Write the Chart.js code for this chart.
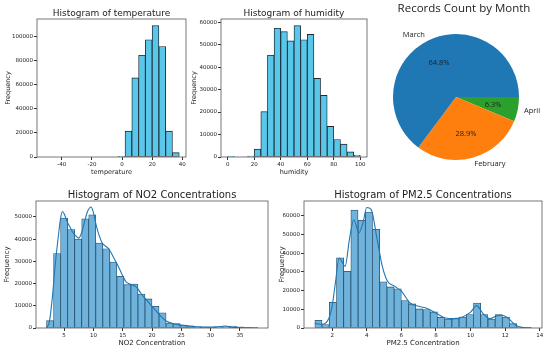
<!DOCTYPE html>
<html>
<head>
<meta charset="utf-8">
<script src="https://cdn.jsdelivr.net/npm/chart.js@4.4.1/dist/chart.umd.min.js"></script>
<style>
	body { margin: 0; background: #fff; }
	#wrap { position: relative; width: 550px; height: 348px; overflow: hidden; }
	canvas { position: absolute; }
</style>
</head>
<body>
<div id="wrap">
	<canvas id="temp-chart" width="190" height="176" style="left:0;top:0"></canvas>
	<canvas id="hum-chart" width="180" height="176" style="left:190px;top:0"></canvas>
	<canvas id="month-chart" width="180" height="176" style="left:370px;top:0"></canvas>
	<canvas id="no2-chart" width="278" height="172" style="left:0;top:176px"></canvas>
	<canvas id="pm-chart" width="272" height="172" style="left:278px;top:176px"></canvas>
</div>
<script>
// temperature histogram (20 bins)
const tempEdges = [-52, -47.5, -43, -38.5, -34, -29.5, -25, -20.5, -16, -11.5, -7, -2.5, 2, 6.5, 11, 15.5, 20, 24.5, 29, 33.5, 38];
const tempCounts = [0, 0, 0, 0, 0, 0, 0, 0, 0, 0, 0, 300, 21500, 65600, 84400, 97200, 109000, 91600, 21500, 3600];
const tempXTicks = [-40, -20, 0, 20, 40];
const tempYTicks = [0, 20000, 40000, 60000, 80000, 100000];

// humidity histogram (20 bins)
const humEdges = [0, 5, 10, 15, 20, 25, 30, 35, 40, 45, 50, 55, 60, 65, 70, 75, 80, 85, 90, 95, 100];
const humCounts = [300, 0, 0, 450, 3500, 20200, 45300, 57300, 55800, 51700, 58500, 52200, 54600, 35000, 27400, 13600, 7800, 5700, 2300, 750];
const humXTicks = [0, 20, 40, 60, 80, 100];
const humYTicks = [0, 10000, 20000, 30000, 40000, 50000, 60000];

// records by month
const months = ['March', 'February', 'April'];
const monthShares = [64.8, 28.9, 6.3];
const monthColors = ['#1f77b4', '#ff7f0e', '#2ca02c'];

// NO2 histogram (30 bins) + kde
const no2Edges = [2, 3.2, 4.4, 5.6, 6.8, 8, 9.2, 10.4, 11.6, 12.8, 14, 15.2, 16.4, 17.6, 18.8, 20, 21.2, 22.4, 23.6, 24.8, 26, 27.2, 28.4, 29.6, 30.8, 32, 33.2, 34.4, 35.6, 36.8, 38];
const no2Counts = [3300, 33500, 49500, 44300, 40100, 49200, 51000, 38300, 35700, 29700, 23300, 19500, 19800, 15300, 13100, 9800, 6800, 2200, 2000, 1300, 1000, 600, 400, 300, 400, 600, 900, 500, 200, 100];
const no2KdeX = [2, 2.5, 3, 3.5, 4, 4.4, 4.7, 5, 5.5, 6, 6.5, 7, 7.5, 8, 8.5, 9, 9.6, 10, 10.5, 11, 11.5, 12, 12.5, 13, 13.5, 14, 14.5, 15, 15.5, 16, 16.5, 17, 17.5, 18, 18.5, 19, 19.5, 20, 20.5, 21, 21.5, 22, 22.5, 23.5, 25, 27, 29, 31, 32.5, 34, 36, 38];
const no2KdeY = [0, 3000, 14000, 29000, 41000, 49500, 52500, 51500, 48000, 45500, 43000, 41500, 40500, 43000, 48000, 52500, 54500, 52000, 46000, 41500, 38300, 37000, 36000, 34000, 31500, 29000, 26300, 23500, 21000, 20000, 19500, 19000, 18000, 16000, 14300, 12800, 11300, 9800, 8300, 6800, 5300, 4000, 3000, 2000, 1300, 700, 400, 500, 900, 300, 100, 0];
const no2XTicks = [5, 10, 15, 20, 25, 30, 35];
const no2YTicks = [0, 10000, 20000, 30000, 40000, 50000];

// PM2.5 histogram (30 bins) + kde
const pmEdges = [1, 1.42, 1.83, 2.25, 2.67, 3.08, 3.5, 3.92, 4.33, 4.75, 5.17, 5.58, 6, 6.42, 6.83, 7.25, 7.67, 8.08, 8.5, 8.92, 9.33, 9.75, 10.17, 10.58, 11, 11.42, 11.83, 12.25, 12.67, 13.08, 13.5];
const pmCounts = [4100, 1800, 13800, 37600, 30400, 63200, 57700, 62100, 52800, 24700, 22000, 21000, 14700, 12900, 10200, 9900, 8600, 5700, 4800, 5000, 5900, 7200, 13400, 7200, 4800, 7200, 5900, 2300, 300, 100];
const pmKdeX = [1, 1.4, 1.8, 2, 2.2, 2.4, 2.6, 2.75, 3, 3.25, 3.55, 3.8, 4, 4.25, 4.6, 4.9, 5.2, 5.6, 6, 6.5, 7, 7.5, 8, 8.5, 9, 9.5, 10, 10.35, 10.7, 11.1, 11.5, 11.8, 12.2, 12.6, 13, 13.5];
const pmKdeY = [2500, 2000, 5000, 11600, 25000, 37500, 35000, 33000, 47500, 58000, 51000, 57000, 64500, 63500, 47500, 33000, 25000, 22400, 19700, 13400, 11600, 10500, 8000, 5500, 5000, 5800, 8500, 12000, 8000, 5000, 6500, 6800, 5000, 1500, 300, 0];
const pmXTicks = [2, 4, 6, 8, 10, 12, 14];
const pmYTicks = [0, 10000, 20000, 30000, 40000, 50000, 60000];

const FONT = 'DejaVu Sans';
const INK = '#222';

// bars sit on bin centres, width comes from the bin spacing
function binPoints(edges, counts) {
	return counts.map((c, i) => ({ x: (edges[i] + edges[i + 1]) / 2, y: c }));
}

// box around the plot area + title above it
const framePlugin = {
	id: 'frame',
	afterDraw(chart, args, opts) {
		const { ctx, chartArea: a } = chart;
		ctx.save();
		ctx.strokeStyle = opts.color || '#555';
		ctx.lineWidth = 0.8;
		ctx.strokeRect(a.left, a.top, a.right - a.left, a.bottom - a.top);
		if (opts.title) {
			ctx.fillStyle = INK;
			ctx.font = opts.titleSize + 'px "' + FONT + '"';
			ctx.textAlign = 'center';
			ctx.textBaseline = 'alphabetic';
			ctx.fillText(opts.title, (a.left + a.right) / 2, a.top - opts.gap);
		}
		ctx.restore();
	}
};

function histOptions(o) {
	const zeroPad = s => { s.paddingLeft = 0; s.paddingRight = 0; s.paddingTop = 0; s.paddingBottom = 0; };
	return {
		responsive: false,
		animation: false,
		events: [],
		layout: { padding: o.padding },
		plugins: {
			legend: { display: false },
			tooltip: { enabled: false },
			frame: { title: o.title, titleSize: o.titleSize, gap: o.gap }
		},
		scales: {
			x: {
				type: 'linear',
				min: o.xMin,
				max: o.xMax,
				offset: false,
				border: { display: false },
				grid: { display: true, drawOnChartArea: false, drawTicks: true, tickLength: 3, color: '#333', offset: false },
				ticks: { autoSkip: false, maxRotation: 0, padding: 1, color: INK, font: { family: FONT, size: o.tickSize }, callback: v => String(v) },
				afterBuildTicks(s) { s.ticks = o.xTicks.map(v => ({ value: v })); },
				title: { display: true, text: o.xLabel, color: INK, padding: o.xTitlePad, font: { family: FONT, size: o.labelSize } },
				afterFit(s) { s.height = o.xHeight; zeroPad(s); }
			},
			y: {
				min: 0,
				max: o.yMax,
				border: { display: false },
				grid: { display: true, drawOnChartArea: false, drawTicks: true, tickLength: 3, color: '#333' },
				ticks: { autoSkip: false, padding: 1, color: INK, font: { family: FONT, size: o.tickSize }, callback: v => String(v) },
				afterBuildTicks(s) { s.ticks = o.yTicks.map(v => ({ value: v })); },
				title: { display: true, text: 'Frequency', color: INK, padding: o.yTitlePad, font: { family: FONT, size: o.labelSize } },
				afterFit(s) { s.width = o.yWidth; zeroPad(s); }
			}
		}
	};
}

document.addEventListener('DOMContentLoaded', () => {
	// Histogram of temperature
	new Chart(document.getElementById('temp-chart'), {
		type: 'bar',
		data: {
			datasets: [{
				data: binPoints(tempEdges, tempCounts),
				backgroundColor: '#58c7ea',
				borderColor: '#1c2a33',
				borderWidth: 0.9,
				borderSkipped: false,
				barPercentage: 1,
				categoryPercentage: 1
			}]
		},
		options: histOptions({
			title: 'Histogram of temperature', titleSize: 9, gap: 3,
			padding: { left: 0, right: 4, top: 19, bottom: 0 },
			xMin: -56.5, xMax: 42.5, xTicks: tempXTicks, xLabel: 'temperature', xHeight: 19, xTitlePad: 0,
			yMax: 114450, yTicks: tempYTicks, yWidth: 37, yTitlePad: 4,
			tickSize: 5.5, labelSize: 6.5
		}),
		plugins: [framePlugin]
	});

	// Histogram of humidity
	new Chart(document.getElementById('hum-chart'), {
		type: 'bar',
		data: {
			datasets: [{
				data: binPoints(humEdges, humCounts),
				backgroundColor: '#58c7ea',
				borderColor: '#1c2a33',
				borderWidth: 0.9,
				borderSkipped: false,
				barPercentage: 1,
				categoryPercentage: 1
			}]
		},
		options: histOptions({
			title: 'Histogram of humidity', titleSize: 9, gap: 3,
			padding: { left: 0, right: 3, top: 19, bottom: 0 },
			xMin: -5, xMax: 105, xTicks: humXTicks, xLabel: 'humidity', xHeight: 19, xTitlePad: 0,
			yMax: 61425, yTicks: humYTicks, yWidth: 31, yTitlePad: 0,
			tickSize: 5.5, labelSize: 6.5
		}),
		plugins: [framePlugin]
	});

	// Records Count by Month (matplotlib draws counter-clockwise from 3 o'clock,
	// chart.js clockwise, so reverse the order and start at 90deg)
	const pieLabels = {
		id: 'pieLabels',
		afterDraw(chart) {
			const { ctx } = chart;
			const arcs = chart.getDatasetMeta(0).data;
			ctx.save();
			ctx.fillStyle = INK;
			ctx.font = '7.5px "Open Sans"';
			ctx.textBaseline = 'middle';
			arcs.forEach((arc, i) => {
				const mid = (arc.startAngle + arc.endAngle) / 2;
				const r = arc.outerRadius;
				const c = Math.cos(mid), s = Math.sin(mid);
				ctx.textAlign = 'center';
				ctx.fillText(chart.data.datasets[0].data[i].toFixed(1) + '%', arc.x + c * r * 0.6, arc.y + s * r * 0.6);
				ctx.textAlign = c > 0 ? 'left' : 'right';
				ctx.fillText(chart.data.labels[i], arc.x + c * r * 1.1, arc.y + s * r * 1.1);
			});
			ctx.font = '11.5px "Open Sans"';
			ctx.textAlign = 'center';
			ctx.fillText('Records Count by Month', 94, 9);
			ctx.restore();
		}
	};
	new Chart(document.getElementById('month-chart'), {
		type: 'pie',
		data: {
			labels: months.slice().reverse(),
			datasets: [{
				data: monthShares.slice().reverse(),
				backgroundColor: monthColors.slice().reverse(),
				borderWidth: 0
			}]
		},
		options: {
			responsive: false,
			animation: false,
			events: [],
			rotation: 90,
			layout: { padding: { left: 23, right: 31, top: 34, bottom: 16 } },
			plugins: { legend: { display: false }, tooltip: { enabled: false } }
		},
		plugins: [pieLabels]
	});

	// Histogram of NO2 Concentrations
	new Chart(document.getElementById('no2-chart'), {
		type: 'bar',
		data: {
			datasets: [{
				type: 'line',
				data: no2KdeX.map((x, i) => ({ x: x, y: no2KdeY[i] })),
				borderColor: '#1f77b4',
				borderWidth: 1.1,
				pointRadius: 0,
				cubicInterpolationMode: 'monotone',
				order: 0
			}, {
				data: binPoints(no2Edges, no2Counts),
				backgroundColor: '#6fb3dc',
				borderColor: '#27526e',
				borderWidth: 0.8,
				borderSkipped: false,
				barPercentage: 1,
				categoryPercentage: 1,
				order: 1
			}]
		},
		options: histOptions({
			title: 'Histogram of NO2 Concentrations', titleSize: 10, gap: 3,
			padding: { left: 0, right: 10, top: 25, bottom: 0 },
			xMin: 0.2, xMax: 39.8, xTicks: no2XTicks, xLabel: 'NO2 Concentration', xHeight: 20, xTitlePad: 1,
			yMax: 57200, yTicks: no2YTicks, yWidth: 36, yTitlePad: 3,
			tickSize: 5.5, labelSize: 7
		}),
		plugins: [framePlugin]
	});

	// Histogram of PM2.5 Concentrations
	new Chart(document.getElementById('pm-chart'), {
		type: 'bar',
		data: {
			datasets: [{
				type: 'line',
				data: pmKdeX.map((x, i) => ({ x: x, y: pmKdeY[i] })),
				borderColor: '#1f77b4',
				borderWidth: 1.1,
				pointRadius: 0,
				cubicInterpolationMode: 'monotone',
				order: 0
			}, {
				data: binPoints(pmEdges, pmCounts),
				backgroundColor: '#6fb3dc',
				borderColor: '#27526e',
				borderWidth: 0.8,
				borderSkipped: false,
				barPercentage: 1,
				categoryPercentage: 1,
				order: 1
			}]
		},
		options: histOptions({
			title: 'Histogram of PM2.5 Concentrations', titleSize: 10, gap: 3,
			padding: { left: 0, right: 8, top: 25, bottom: 0 },
			xMin: 0.375, xMax: 14.125, xTicks: pmXTicks, xLabel: 'PM2.5 Concentration', xHeight: 20, xTitlePad: 1,
			yMax: 68000, yTicks: pmYTicks, yWidth: 26, yTitlePad: 0,
			tickSize: 5.5, labelSize: 7
		}),
		plugins: [framePlugin]
	});
});
</script>
</body>
</html>
